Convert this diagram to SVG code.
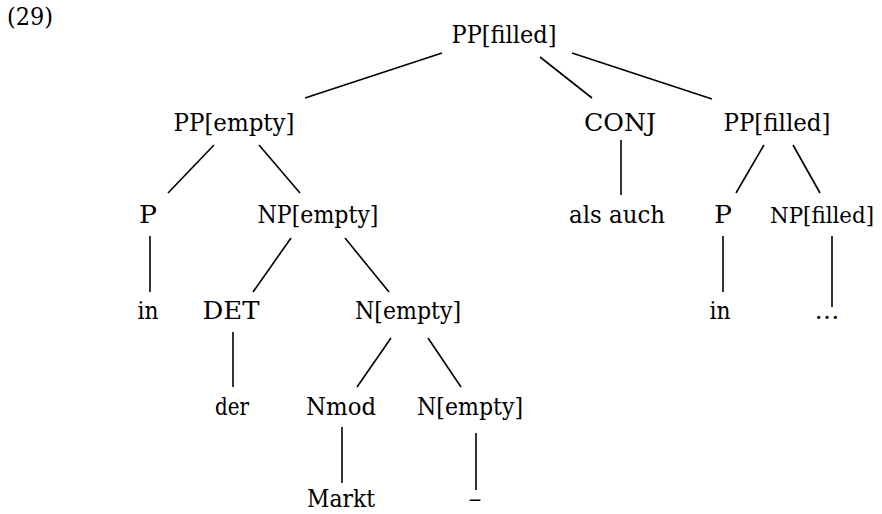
<svg xmlns="http://www.w3.org/2000/svg" width="882" height="514" viewBox="0 0 882 514" font-family="'DejaVu Serif', serif">
<style>
text{font-family:"DejaVu Serif","Liberation Serif",serif;font-size:24px;fill:#000;text-anchor:middle}
.edge line{stroke:#000;stroke-width:1.6;stroke-linecap:butt}
</style>
<rect width="882" height="514" fill="#fff"/>
<text x="30" y="25" textLength="46" lengthAdjust="spacingAndGlyphs">(29)</text>
<g id="edges" class="edge">
<line x1="442" y1="53" x2="305" y2="98"/>
<line x1="540" y1="57" x2="592" y2="98"/>
<line x1="572" y1="53" x2="712" y2="99"/>
<line x1="214" y1="145" x2="168" y2="193"/>
<line x1="259" y1="145" x2="300" y2="193"/>
<line x1="621" y1="140" x2="621" y2="195"/>
<line x1="764" y1="145" x2="736" y2="193"/>
<line x1="793" y1="145" x2="820" y2="193"/>
<line x1="150" y1="236" x2="150" y2="292"/>
<line x1="291" y1="238" x2="253" y2="292"/>
<line x1="345" y1="238" x2="389" y2="292"/>
<line x1="723" y1="236" x2="723" y2="292"/>
<line x1="832" y1="236" x2="832" y2="307"/>
<line x1="233" y1="332" x2="233" y2="387"/>
<line x1="391" y1="338" x2="357" y2="387"/>
<line x1="428" y1="338" x2="461" y2="387"/>
<line x1="342" y1="427" x2="342" y2="483"/>
<line x1="476" y1="433" x2="476" y2="490"/>
</g>
<g id="n_root"><text x="504" y="43" textLength="105" lengthAdjust="spacingAndGlyphs">PP[filled]</text></g>
<g id="n_ppempty"><text x="234" y="131" textLength="121" lengthAdjust="spacingAndGlyphs">PP[empty]</text></g>
<g id="n_conj"><text x="620" y="131" textLength="72" lengthAdjust="spacingAndGlyphs">CONJ</text></g>
<g id="n_ppfilled2"><text x="777" y="131" textLength="107" lengthAdjust="spacingAndGlyphs">PP[filled]</text></g>
<g id="n_p1"><text x="148" y="223" textLength="18" lengthAdjust="spacingAndGlyphs">P</text></g>
<g id="n_npempty"><text x="318" y="223" textLength="121" lengthAdjust="spacingAndGlyphs">NP[empty]</text></g>
<g id="n_alsauch"><text x="617" y="223" textLength="96" lengthAdjust="spacingAndGlyphs">als auch</text></g>
<g id="n_p2"><text x="723" y="223" textLength="18" lengthAdjust="spacingAndGlyphs">P</text></g>
<g id="n_npfilled"><text x="822" y="223" style="font-size:22px" textLength="104" lengthAdjust="spacingAndGlyphs">NP[filled]</text></g>
<g id="n_in1"><text x="148" y="319" textLength="21" lengthAdjust="spacingAndGlyphs">in</text></g>
<g id="n_det"><text x="231" y="319" textLength="57" lengthAdjust="spacingAndGlyphs">DET</text></g>
<g id="n_nempty1"><text x="408" y="319" textLength="106" lengthAdjust="spacingAndGlyphs">N[empty]</text></g>
<g id="n_in2"><text x="720" y="319" textLength="21" lengthAdjust="spacingAndGlyphs">in</text></g>
<g id="n_dots"><text x="827" y="319" textLength="25" lengthAdjust="spacingAndGlyphs">…</text></g>
<g id="n_der"><text x="232" y="415" textLength="34" lengthAdjust="spacingAndGlyphs">der</text></g>
<g id="n_nmod"><text x="341" y="415" textLength="70" lengthAdjust="spacingAndGlyphs">Nmod</text></g>
<g id="n_nempty2"><text x="470" y="415" textLength="106" lengthAdjust="spacingAndGlyphs">N[empty]</text></g>
<g id="n_markt"><text x="341" y="507" textLength="68" lengthAdjust="spacingAndGlyphs">Markt</text></g>
<g id="n_dash"><text x="475" y="507" textLength="13" lengthAdjust="spacingAndGlyphs">–</text></g>
</svg>
